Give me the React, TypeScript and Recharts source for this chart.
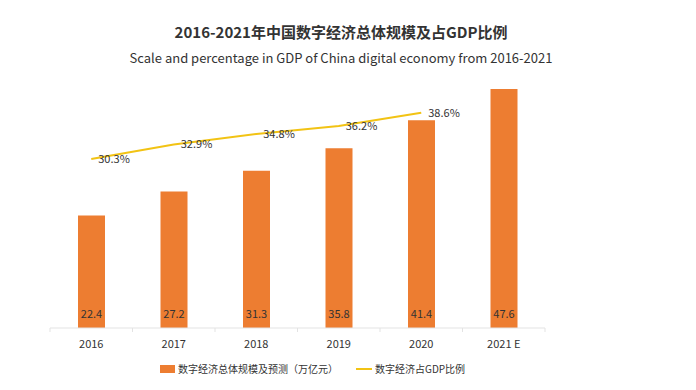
import {
  Bar,
  ComposedChart,
  LabelList,
  Line,
  XAxis,
  YAxis,
} from "recharts";

const years = ["2016", "2017", "2018", "2019", "2020", "2021 E"];
const scaleValues = [22.4, 27.2, 31.3, 35.8, 41.4, 47.6];
const gdpShare: (number | null)[] = [30.3, 32.9, 34.8, 36.2, 38.6, null];

const data = years.map((year, i) => ({
  year,
  scale: scaleValues[i],
  share: gdpShare[i],
}));

const FONT = '"Noto Sans CJK SC", "Noto Sans", sans-serif';
const ORANGE = "#ED7D31";
const YELLOW = "#F2C314";
const CHART_W = 696;
const CHART_H = 390;
const MARGIN = { top: 77, right: 151, bottom: 0, left: 50 };
const BAND = (CHART_W - MARGIN.left - MARGIN.right) / years.length;

function YearTick(props: any) {
  const { x, y, payload, index } = props;
  return (
    <g>
      {index === 0 && (
        <line x1={x - BAND / 2} x2={x - BAND / 2} y1={y - 12} y2={y - 8} stroke="#e3e3e3" />
      )}
      <line x1={x + BAND / 2} x2={x + BAND / 2} y1={y - 12} y2={y - 8} stroke="#e3e3e3" />
      <text x={x} y={y} dy="0.71em" textAnchor="middle" fontSize={11} fill="#333" fontFamily={FONT}>
        {payload.value}
      </text>
    </g>
  );
}

function ShareLabel(props: any) {
  const { x, y, value } = props;
  if (value == null) return null;
  return (
    <text x={x + 7} y={y + 4} fontSize={11} fill="#333" fontFamily={FONT}>
      {value.toFixed(1)}%
    </text>
  );
}

export default function App() {
  return (
    <div
      style={{
        position: "absolute",
        left: 0,
        top: 0,
        width: CHART_W,
        height: CHART_H,
        background: "#fff",
        fontFamily: FONT,
      }}
    >
      <div
        style={{
          position: "absolute",
          top: 21,
          left: 0,
          width: 682,
          textAlign: "center",
          fontSize: 15,
          fontWeight: 700,
          color: "#333",
          lineHeight: "22px",
        }}
      >
        2016-2021年中国数字经济总体规模及占GDP比例
      </div>
      <div
        style={{
          position: "absolute",
          top: 48,
          left: 0,
          width: 682,
          textAlign: "center",
          fontSize: 13,
          color: "#333",
          lineHeight: "20px",
        }}
      >
        Scale and percentage in GDP of China digital economy from 2016-2021
      </div>

      <ComposedChart width={CHART_W} height={CHART_H} data={data} margin={MARGIN}>
        <XAxis
          dataKey="year"
          height={62}
          axisLine={{ stroke: "#e3e3e3" }}
          tickLine={false}
          tick={<YearTick />}
          tickMargin={6}
          interval={0}
        />
        <YAxis yAxisId="left" hide domain={[0, 50]} />
        <YAxis yAxisId="right" hide domain={[0, 45]} orientation="right" />
        <Bar yAxisId="left" dataKey="scale" fill={ORANGE} barSize={27} isAnimationActive={false}>
          <LabelList
            dataKey="scale"
            position="insideBottom"
            offset={10}
            fontSize={11}
            fill="#333"
            fontFamily={FONT}
          />
        </Bar>
        <Line
          yAxisId="right"
          dataKey="share"
          stroke={YELLOW}
          strokeWidth={2}
          dot={false}
          activeDot={false}
          type="linear"
          isAnimationActive={false}
        >
          <LabelList dataKey="share" content={<ShareLabel />} />
        </Line>
      </ComposedChart>

      <div
        style={{
          position: "absolute",
          top: 360,
          left: 160,
          display: "flex",
          alignItems: "center",
          fontSize: 10,
          color: "#333",
          lineHeight: "18px",
        }}
      >
        <span style={{ width: 15, height: 8, background: ORANGE, marginRight: 3 }} />
        <span>数字经济总体规模及预测（万亿元）</span>
        <span style={{ width: 16, height: 2, background: YELLOW, marginLeft: 18, marginRight: 3 }} />
        <span>数字经济占GDP比例</span>
      </div>
    </div>
  );
}
